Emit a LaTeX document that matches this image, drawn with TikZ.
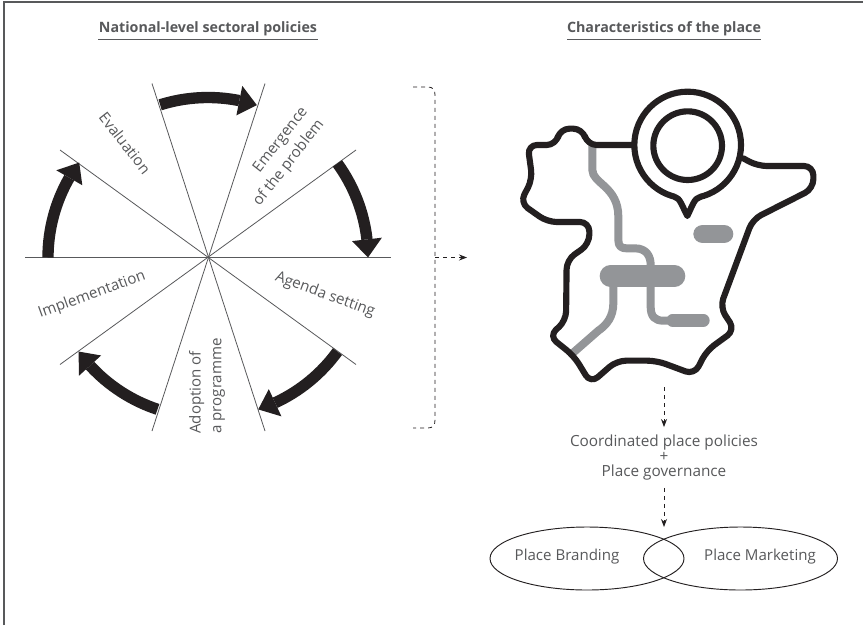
\documentclass[tikz,border=0pt]{standalone}
\usepackage{fontspec}
\setmainfont{Open Sans}
\usetikzlibrary{arrows.meta,shapes.geometric}
\definecolor{txt}{HTML}{58595B}
\definecolor{roadgray}{HTML}{939598}
\definecolor{ink}{HTML}{231F20}
\tikzset{
  lab/.style={text=txt,font=\fontsize{11.3}{15.5}\selectfont,inner sep=0pt,align=center},
  headline/.style={text=txt,font=\bfseries\fontsize{10.7}{12}\selectfont,inner sep=0pt},
  spoke/.style={draw=txt,line width=0.6pt},
  flow/.style={draw=ink,line width=0.6pt,dash pattern=on 3pt off 3pt,-{Stealth[length=6pt,width=4.5pt]}},
  bracketline/.style={draw=ink,line width=0.6pt,dash pattern=on 3pt off 3pt},
  blob/.style={draw=ink,line width=0.7pt,ellipse,inner sep=0pt,minimum width=145.5pt,minimum height=47.25pt},
  road/.style={draw=roadgray,line width=6pt,line join=round},
  outline/.style={draw=ink,line width=4.6pt,line join=round,line cap=round},
}
\newcommand{\cyclearrow}[2]{%
  \pgfmathsetmacro{\stp}{#2>#1 ? 1 : -1}%
  \pgfmathsetmacro{\bs}{#2-\stp*6.5}%
  \draw[ink,line width=8.5pt] (#1:160) arc[start angle=#1,end angle=\bs,radius=160];
  \fill[ink] (#2:160) -- (\bs:175) -- (\bs:145) -- cycle;
}
\begin{document}
\begin{tikzpicture}[x=0.75pt,y=-0.75pt]
\useasboundingbox (0,0) rectangle (863,625);
\fill[white] (0,0) rectangle (863,625);
\draw[txt,line width=1pt] (4,625) -- (4,2) -- (863,2);

% headings
\node[headline] (h1) at (208,29) {National-level sectoral policies};
\node[headline] (h2) at (664,29) {Characteristics of the place};
\draw[txt,line width=0.7pt] (98,39) -- (318,39);
\draw[txt,line width=0.7pt] (567,39) -- (761,39);

% spokes
\coordinate (c) at (208,257.5);
\draw[spoke] (25,257.5) -- (391,257.5);
\draw[spoke] (60,150) -- (356,364.5);
\draw[spoke] (356,150) -- (60,364.5);
\draw[spoke] (152,83.5) -- (265,431);
\draw[spoke] (265,83.5) -- (152,431);

% cycle arrows
\begin{scope}[shift={(208,257.5)},x=0.75pt,y=0.75pt]
\cyclearrow{107.4}{72.2}
\cyclearrow{36}{0}
\cyclearrow{-36}{-71.7}
\cyclearrow{-108.4}{-144}
\cyclearrow{180}{143.6}
\end{scope}

% rotated labels
\node[lab,rotate=-52] (ev) at (125,143) {Evaluation};
\node[lab,rotate=52,align=right] (em) at (281,157) {Emergence\\of the problem};
\node[lab,rotate=-20] (ag) at (325,295) {Agenda setting};
\node[lab,rotate=20] (im) at (92,295) {Implementation};
\node[lab,rotate=90,align=left] (ad) at (207,386) {Adoption of\\a programme};

% bracket
\draw[bracketline] (413,87) -- (428,87) .. controls (433,87) and (435,90) .. (435,95)
  -- (435,420) .. controls (435,425) and (433,428) .. (428,428) -- (413,428);
\coordinate (bm) at (435,257.5);
\coordinate (mapin) at (467,257.5);
\draw[flow] (bm) -- (mapin);

% map
\begin{scope}[shift={(500,80)},x=0.25pt,y=-0.25pt]
\draw[road] (277,195) -- (277,270) .. controls (277,310) and (355,320) .. (355,410) -- (355,480)
  .. controls (355,500) and (365,505) .. (380,505) -- (405,505) .. controls (440,505) and (452,530) .. (452,555) -- (452,680)
  .. controls (452,710) and (465,722) .. (490,722) -- (520,722);
\draw[road] (340,600) -- (340,670) .. controls (340,710) and (320,735) .. (295,752) -- (215,822);
\draw[roadgray,line width=16.5pt,line cap=round] (332,588) -- (523,588);
\draw[roadgray,line width=9.5pt,line cap=round] (518,721) -- (610,721);
\draw[roadgray,line width=14pt,line cap=round] (608,462) -- (672,462);
\draw[outline,rounded corners=7pt] (405,195) -- (262,195) -- (248,146) -- (180,146) -- (168,195)
  -- (83,195) -- (97,298) -- (60,368) -- (142,426) -- (268,426) -- (268,492) -- (200,540)
  -- (198,722) -- (147,768) -- (222,828) -- (272,910) -- (350,842) -- (470,842)
  -- (583,884) -- (620,812) -- (705,750) -- (660,682) -- (758,418) -- (940,326)
  -- (940,258) -- (772,258) -- (730,235);
\draw[outline,fill=white] (563,195) circle[radius=160];
\fill[white] (525,340) -- (600,340) -- (562,400) -- cycle;
\draw[outline] (525,351) .. controls (540,355) and (545,375) .. (562,408)
  .. controls (578,375) and (583,355) .. (600,351);
\draw[outline] (563,197) circle[radius=103];
\end{scope}

% lower flow
\coordinate (mapb) at (664,387);
\node[lab,font=\fontsize{11.5}{10.9}\selectfont] (coord) at (664,457.5) {Coordinated place policies\\+\\Place governance};
\coordinate (meet) at (664,527);
\draw[flow] (mapb) -- ([yshift=6pt]coord.north);
\draw[flow] ([yshift=-6pt]coord.south) -- (meet);

% ellipses
\node[blob] (brand) at (587,558.5) {};
\node[blob] (market) at (740.5,558.5) {};
\node[lab] (brandt) at (567,557) {Place Branding};
\node[lab] (markett) at (760,557) {Place Marketing};
\end{tikzpicture}
\end{document}
